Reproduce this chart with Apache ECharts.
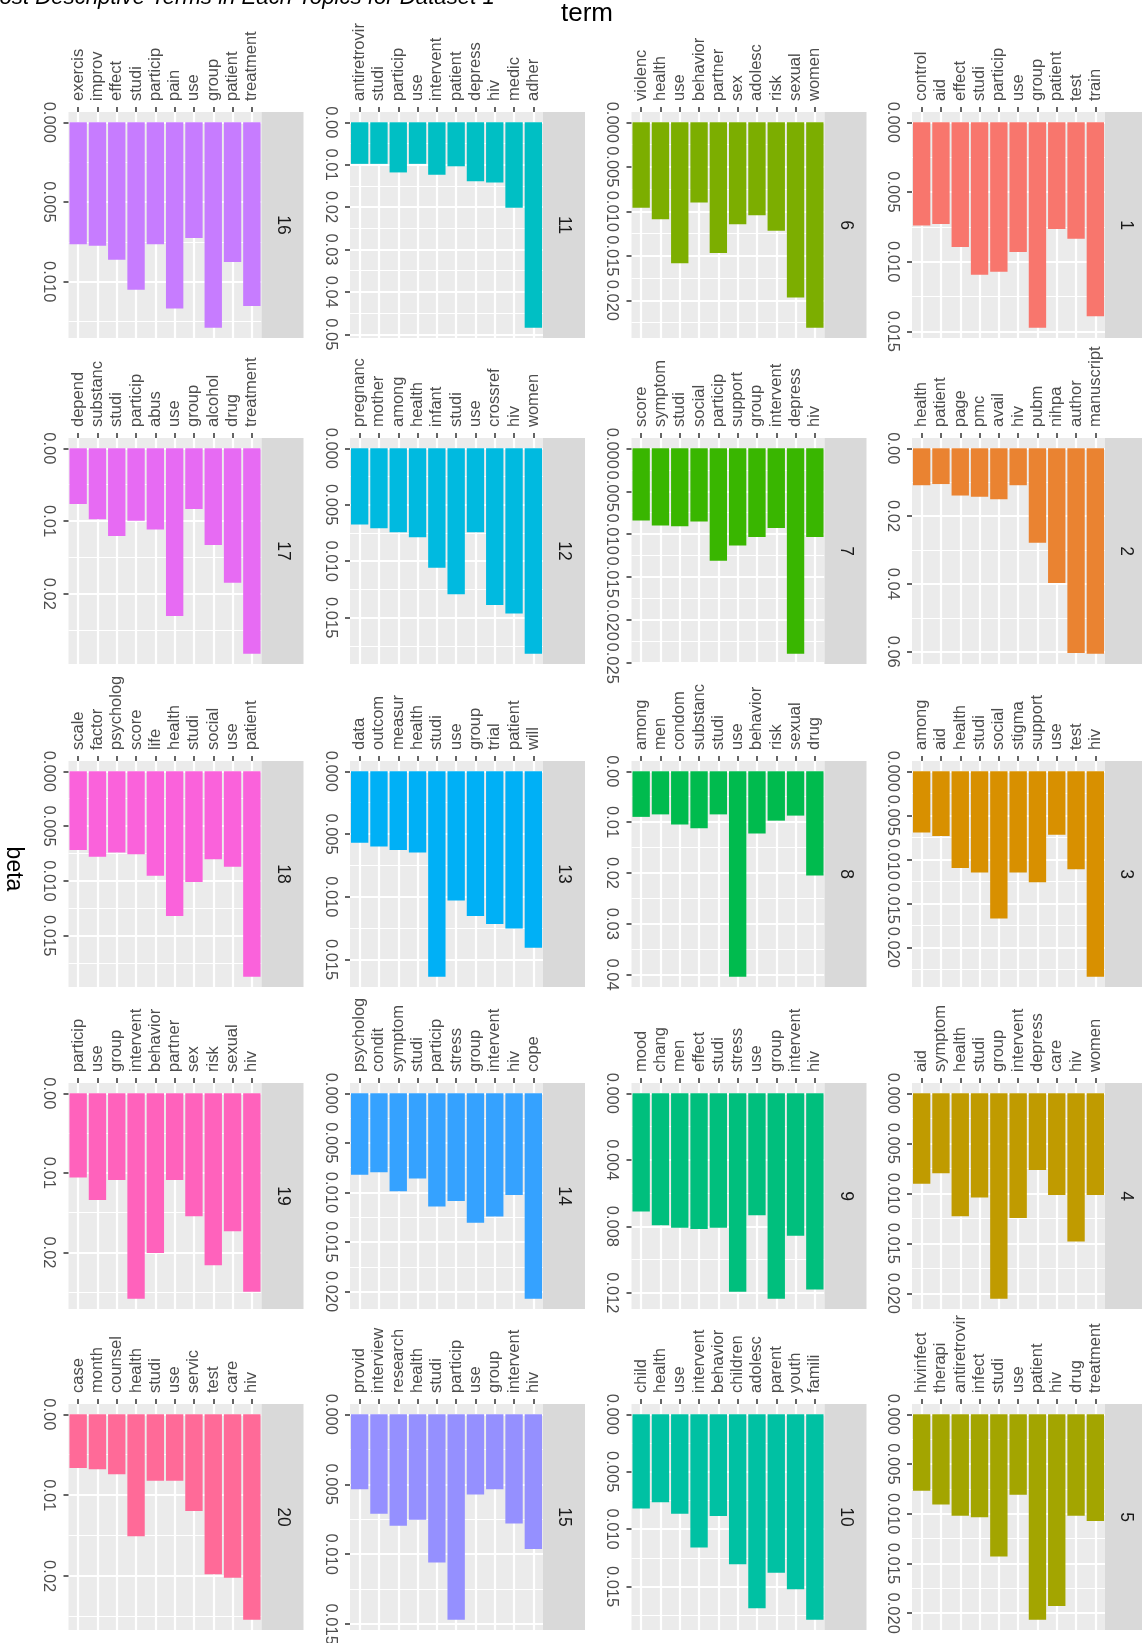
<!DOCTYPE html>
<html>
<head>
<meta charset="utf-8">
<title>Most Descriptive Terms in Each Topics for Dataset 1</title>
<script src="https://cdn.jsdelivr.net/npm/echarts@6/dist/echarts.min.js"></script>
<style>
  html, body { margin: 0; padding: 0; background: #ffffff; }
  #chart { width: 1142px; height: 1643px; }
</style>
</head>
<body>
<div id="chart"></div>
<script>
// ---- Topic term weights (beta); terms are listed in axis order ----
const topic1Terms = ['control', 'aid', 'effect', 'studi', 'particip', 'use', 'group', 'patient', 'test', 'train'];
const topic1Beta = [0.0074, 0.0073, 0.00895, 0.01094, 0.01073, 0.0093, 0.01474, 0.00766, 0.00836, 0.01392];
const topic1Ticks = ['0.000', '0.005', '0.010', '0.015'];

const topic2Terms = ['health', 'patient', 'page', 'pmc', 'avail', 'hiv', 'pubm', 'nihpa', 'author', 'manuscript'];
const topic2Beta = [0.0109, 0.01055, 0.01394, 0.0143, 0.01503, 0.0109, 0.02788, 0.03976, 0.06036, 0.0606];
const topic2Ticks = ['0.00', '0.02', '0.04', '0.06'];

const topic3Terms = ['among', 'aid', 'health', 'studi', 'social', 'stigma', 'support', 'use', 'test', 'hiv'];
const topic3Beta = [0.00694, 0.00736, 0.01097, 0.0115, 0.01672, 0.0115, 0.01259, 0.00722, 0.01112, 0.02333];
const topic3Ticks = ['0.000', '0.005', '0.010', '0.015', '0.020'];

const topic4Terms = ['aid', 'symptom', 'health', 'studi', 'group', 'intervent', 'depress', 'care', 'hiv', 'women'];
const topic4Beta = [0.00904, 0.008, 0.01229, 0.01042, 0.02054, 0.01246, 0.00767, 0.01017, 0.01483, 0.01017];
const topic4Ticks = ['0.000', '0.005', '0.010', '0.015', '0.020'];

const topic5Terms = ['hivinfect', 'therapi', 'antiretrovir', 'infect', 'studi', 'use', 'patient', 'hiv', 'drug', 'treatment'];
const topic5Beta = [0.00769, 0.00908, 0.0102, 0.01036, 0.01429, 0.00809, 0.02066, 0.01927, 0.0102, 0.01073];
const topic5Ticks = ['0.000', '0.005', '0.010', '0.015', '0.020'];

const topic6Terms = ['violenc', 'health', 'use', 'behavior', 'partner', 'sex', 'adolesc', 'risk', 'sexual', 'women'];
const topic6Beta = [0.00961, 0.01089, 0.01584, 0.00902, 0.01469, 0.01144, 0.01043, 0.01217, 0.01968, 0.02307];
const topic6Ticks = ['0.000', '0.005', '0.010', '0.015', '0.020'];

const topic7Terms = ['score', 'symptom', 'studi', 'social', 'particip', 'support', 'group', 'intervent', 'depress', 'hiv'];
const topic7Beta = [0.00841, 0.00898, 0.00908, 0.00851, 0.01307, 0.01131, 0.01031, 0.00927, 0.0239, 0.01031];
const topic7Ticks = ['0.000', '0.005', '0.010', '0.015', '0.020', '0.025'];

const topic8Terms = ['among', 'men', 'condom', 'substanc', 'studi', 'use', 'behavior', 'risk', 'sexual', 'drug'];
const topic8Beta = [0.00897, 0.00848, 0.01045, 0.01119, 0.00848, 0.04041, 0.01226, 0.00971, 0.00872, 0.02049];
const topic8Ticks = ['0.00', '0.01', '0.02', '0.03', '0.04'];

const topic9Terms = ['mood', 'chang', 'men', 'effect', 'studi', 'stress', 'use', 'group', 'intervent', 'hiv'];
const topic9Beta = [0.00711, 0.00793, 0.00809, 0.00816, 0.00809, 0.01193, 0.00733, 0.01235, 0.00856, 0.0118];
const topic9Ticks = ['0.000', '0.004', '0.008', '0.012'];

const topic10Terms = ['child', 'health', 'use', 'intervent', 'behavior', 'children', 'adolesc', 'parent', 'youth', 'famili'];
const topic10Beta = [0.0082, 0.00766, 0.00866, 0.0116, 0.00886, 0.01306, 0.01689, 0.0138, 0.01523, 0.01789];
const topic10Ticks = ['0.000', '0.005', '0.010', '0.015'];

const topic11Terms = ['antiretrovir', 'studi', 'particip', 'use', 'intervent', 'patient', 'depress', 'hiv', 'medic', 'adher'];
const topic11Beta = [0.00981, 0.00981, 0.01183, 0.00981, 0.0124, 0.01038, 0.01394, 0.01423, 0.02019, 0.04846];
const topic11Ticks = ['0.00', '0.01', '0.02', '0.03', '0.04', '0.05'];

const topic12Terms = ['pregnanc', 'mother', 'among', 'health', 'infant', 'studi', 'use', 'crossref', 'hiv', 'women'];
const topic12Beta = [0.00675, 0.00708, 0.00744, 0.00788, 0.01057, 0.01293, 0.00744, 0.01387, 0.01463, 0.01819];
const topic12Ticks = ['0.000', '0.005', '0.010', '0.015'];

const topic13Terms = ['data', 'outcom', 'measur', 'health', 'studi', 'use', 'group', 'trial', 'patient', 'will'];
const topic13Beta = [0.0057, 0.006, 0.00627, 0.00647, 0.01637, 0.0103, 0.01153, 0.01217, 0.01253, 0.01407];
const topic13Ticks = ['0.000', '0.005', '0.010', '0.015'];

const topic14Terms = ['psycholog', 'condit', 'symptom', 'studi', 'particip', 'stress', 'group', 'intervent', 'hiv', 'cope'];
const topic14Beta = [0.00821, 0.00796, 0.00989, 0.00859, 0.01141, 0.01086, 0.01305, 0.01242, 0.01027, 0.02072];
const topic14Ticks = ['0.000', '0.005', '0.010', '0.015', '0.020'];

const topic15Terms = ['provid', 'interview', 'research', 'health', 'studi', 'particip', 'use', 'group', 'intervent', 'hiv'];
const topic15Beta = [0.00536, 0.0071, 0.00796, 0.00754, 0.01059, 0.01468, 0.00574, 0.00536, 0.0078, 0.00963];
const topic15Ticks = ['0.000', '0.005', '0.010', '0.015'];

const topic16Terms = ['exercis', 'improv', 'effect', 'studi', 'particip', 'pain', 'use', 'group', 'patient', 'treatment'];
const topic16Beta = [0.00765, 0.00775, 0.00862, 0.01051, 0.00765, 0.01169, 0.00726, 0.01289, 0.00877, 0.01153];
const topic16Ticks = ['0.000', '0.005', '0.010'];

const topic17Terms = ['depend', 'substanc', 'studi', 'particip', 'abus', 'use', 'group', 'alcohol', 'drug', 'treatment'];
const topic17Beta = [0.00766, 0.00975, 0.01206, 0.00997, 0.01115, 0.02304, 0.00834, 0.0133, 0.01848, 0.02823];
const topic17Ticks = ['0.00', '0.01', '0.02'];

const topic18Terms = ['scale', 'factor', 'psycholog', 'score', 'life', 'health', 'studi', 'social', 'use', 'patient'];
const topic18Beta = [0.00718, 0.00779, 0.0074, 0.00756, 0.00954, 0.01321, 0.01011, 0.00802, 0.0087, 0.01874];
const topic18Ticks = ['0.000', '0.005', '0.010', '0.015'];

const topic19Terms = ['particip', 'use', 'group', 'intervent', 'behavior', 'partner', 'sex', 'risk', 'sexual', 'hiv'];
const topic19Beta = [0.01058, 0.0134, 0.01089, 0.02581, 0.02005, 0.01089, 0.01545, 0.02162, 0.01733, 0.02492];
const topic19Ticks = ['0.00', '0.01', '0.02'];

const topic20Terms = ['case', 'month', 'counsel', 'health', 'studi', 'use', 'servic', 'test', 'care', 'hiv'];
const topic20Beta = [0.00664, 0.0068, 0.00741, 0.01506, 0.00822, 0.00822, 0.01194, 0.01976, 0.0202, 0.02538];
const topic20Ticks = ['0.00', '0.01', '0.02'];

const topicLabels = ['1', '2', '3', '4', '5', '6', '7', '8', '9', '10',
                     '11', '12', '13', '14', '15', '16', '17', '18', '19', '20'];

// ---- assembled per-topic records ----
const TOPICS = [
  [topic1Terms, topic1Beta, topic1Ticks], [topic2Terms, topic2Beta, topic2Ticks],
  [topic3Terms, topic3Beta, topic3Ticks], [topic4Terms, topic4Beta, topic4Ticks],
  [topic5Terms, topic5Beta, topic5Ticks], [topic6Terms, topic6Beta, topic6Ticks],
  [topic7Terms, topic7Beta, topic7Ticks], [topic8Terms, topic8Beta, topic8Ticks],
  [topic9Terms, topic9Beta, topic9Ticks], [topic10Terms, topic10Beta, topic10Ticks],
  [topic11Terms, topic11Beta, topic11Ticks], [topic12Terms, topic12Beta, topic12Ticks],
  [topic13Terms, topic13Beta, topic13Ticks], [topic14Terms, topic14Beta, topic14Ticks],
  [topic15Terms, topic15Beta, topic15Ticks], [topic16Terms, topic16Beta, topic16Ticks],
  [topic17Terms, topic17Beta, topic17Ticks], [topic18Terms, topic18Beta, topic18Ticks],
  [topic19Terms, topic19Beta, topic19Ticks], [topic20Terms, topic20Beta, topic20Ticks]
].map(([terms, beta, ticks], i) => ({ terms, beta, ticks, label: topicLabels[i] }));

// ---- styling / layout ----
const PANEL_COLORS = ['#F8766D', '#EA8331', '#D89000', '#C09B00', '#A3A500',
                      '#7CAE00', '#39B600', '#00BB4E', '#00BF7D', '#00C1A3',
                      '#00BFC4', '#00BAE0', '#00B0F6', '#35A2FF', '#9590FF',
                      '#C77CFF', '#E76BF3', '#FA62DB', '#FF62BC', '#FF6A98'];
const FONT = '"Liberation Sans", Arial, sans-serif';
const AXIS_FONT_SIZE = 16.5;
const COL_X = [68.5, 350, 631.5, 912];      // panel left edges, left to right
const ROW_Y = [112, 438, 761, 1083, 1404];  // panel top edges, top to bottom
const PANEL_W = 193, PANEL_H = 226, STRIP_W = 42;

const grid = [], xAxis = [], yAxis = [], series = [], graphic = [];

TOPICS.forEach((t, i) => {
  const col = 3 - Math.floor(i / 5);
  const row = i % 5;
  const left = COL_X[col], top = ROW_Y[row];

  grid.push({
    left: left, top: top, width: PANEL_W, height: PANEL_H,
    show: true, backgroundColor: '#EBEBEB', borderWidth: 0,
    containLabel: false, outerBoundsMode: 'none'
  });

  const peak = Math.max(...t.beta);
  const lo = -0.05 * peak, hi = 1.05 * peak;
  const major = t.ticks.map(Number);
  const step = major[1] - major[0];
  const minor = [major[0] - step / 2].concat(major.map(v => v + step / 2));

  // term axis along the top edge
  xAxis.push({
    type: 'category', gridIndex: i, position: 'top', data: t.terms,
    axisLine: { show: false, onZero: false },
    axisTick: { show: true, alignWithLabel: true, interval: 0, length: 5,
                lineStyle: { color: '#333333', width: 1.5 } },
    axisLabel: { interval: 0, rotate: -90, margin: 11, color: '#4D4D4D',
                 fontSize: AXIS_FONT_SIZE, fontFamily: FONT, hideOverlap: false },
    splitLine: { show: false }
  });
  // companion axis: white guide line through every term
  xAxis.push({
    type: 'value', gridIndex: i, position: 'top',
    min: -0.5, max: t.terms.length - 0.5,
    axisLine: { show: false, onZero: false },
    axisTick: { show: false, customValues: t.terms.map((_, j) => j) },
    axisLabel: { show: false },
    splitLine: { show: true, lineStyle: { color: '#FFFFFF', width: 2.2 } }
  });
  // beta axis, growing downward
  yAxis.push({
    type: 'value', gridIndex: i, position: 'left', inverse: true, min: lo, max: hi,
    axisLine: { show: false, onZero: false },
    axisTick: { show: true, length: 5, customValues: major,
                lineStyle: { color: '#333333', width: 1.5 } },
    axisLabel: {
      customValues: major, rotate: -90, margin: 11, color: '#4D4D4D',
      fontSize: AXIS_FONT_SIZE, fontFamily: FONT, hideOverlap: false,
      formatter: v => {
        const k = major.findIndex(m => Math.abs(m - v) < 1e-9);
        return k >= 0 ? t.ticks[k] : '';
      }
    },
    splitLine: { show: true, lineStyle: { color: '#FFFFFF', width: 2.2 } }
  });
  // minor beta grid lines
  yAxis.push({
    type: 'value', gridIndex: i, position: 'left', inverse: true, min: lo, max: hi,
    axisLine: { show: false, onZero: false },
    axisTick: { show: false, customValues: minor },
    axisLabel: { show: false },
    splitLine: { show: true, lineStyle: { color: '#FFFFFF', width: 1.1 } }
  });

  series.push({
    type: 'bar', name: 'topic ' + t.label,
    xAxisIndex: 2 * i, yAxisIndex: 2 * i,
    data: t.beta, barWidth: '90%',
    itemStyle: { color: PANEL_COLORS[i] },
    silent: true
  });

  // facet strip on the right side of the panel
  graphic.push({
    type: 'rect', silent: true, z: 10,
    shape: { x: left + PANEL_W, y: top, width: STRIP_W, height: PANEL_H },
    style: { fill: '#D9D9D9' }
  });
  graphic.push({
    type: 'text', silent: true, z: 11,
    x: left + PANEL_W + STRIP_W / 2, y: top + PANEL_H / 2,
    rotation: -Math.PI / 2,
    style: {
      text: t.label, fill: '#1A1A1A', fontSize: 17.5, fontFamily: FONT,
      align: 'center', verticalAlign: 'middle'
    }
  });
});

// axis titles
graphic.push({
  type: 'text', silent: true, x: 587, y: 14,
  style: { text: 'term', fill: '#000000', fontSize: 26, fontFamily: FONT,
           align: 'center', verticalAlign: 'middle' }
});
graphic.push({
  type: 'text', silent: true, x: 13, y: 869, rotation: -Math.PI / 2,
  style: { text: 'beta', fill: '#000000', fontSize: 23, fontFamily: FONT,
           align: 'center', verticalAlign: 'middle' }
});

const chart = echarts.init(document.getElementById('chart'), null, { renderer: 'canvas' });
chart.setOption({
  animation: false,
  backgroundColor: '#FFFFFF',
  textStyle: { fontFamily: FONT },
  title: {
    text: 'Most Descriptive Terms in Each Topics for Dataset 1',
    left: -19, top: -13, padding: 0,
    textStyle: { fontStyle: 'italic', fontWeight: 'normal', fontSize: 22.2,
                 color: '#000000', fontFamily: FONT }
  },
  grid: grid,
  xAxis: xAxis,
  yAxis: yAxis,
  series: series,
  graphic: graphic
});
</script>
</body>
</html>
